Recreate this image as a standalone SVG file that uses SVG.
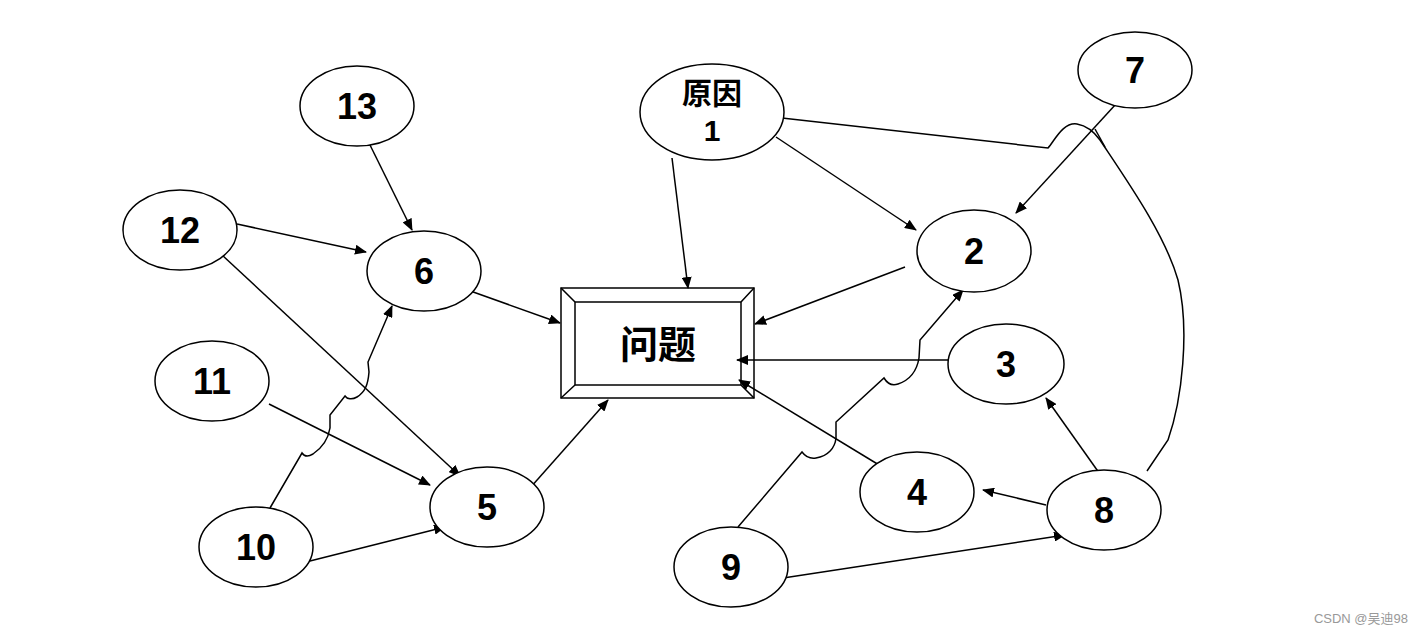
<svg xmlns="http://www.w3.org/2000/svg" width="1422" height="634" viewBox="0 0 1422 634">
<style>
.n ellipse{fill:#fff;stroke:#000;stroke-width:1.5}
.t{font-family:"Liberation Sans","Noto Sans CJK SC",sans-serif;font-weight:bold;font-size:36px;text-anchor:middle;fill:#000}
.c line,.c path{stroke:#000;stroke-width:1.5;fill:none}
.a{marker-end:url(#ah)}
</style>
<defs>
<marker id="ah" viewBox="0 0 12 10" refX="11" refY="5" markerWidth="12" markerHeight="10" markerUnits="userSpaceOnUse" orient="auto">
<path d="M0,0 L12,5 L0,10 Z" fill="#000"/>
</marker>
</defs>
<rect width="1422" height="634" fill="#fff"/>
<g id="box">
<rect x="561" y="288" width="193" height="110" fill="#fff" stroke="#000" stroke-width="1.5"/>
<rect x="575" y="302" width="166" height="83" fill="#fff" stroke="#000" stroke-width="1.5"/>
<path d="M561,288 L575,302 M754,288 L741,302 M561,398 L575,385 M754,398 L741,385" stroke="#000" stroke-width="1.5"/>
<text class="t" x="658" y="358" style="font-size:38px;font-family:'Noto Sans CJK SC',sans-serif">问题</text>
</g>
<g class="c">
<line class="a" x1="672" y1="158" x2="688" y2="288"/>
<line class="a" x1="776" y1="137" x2="916" y2="230"/>
<path d="M773,117 L1048,148 C1055,140 1063,122 1077,124 C1088,126 1095,133 1100,140 C1130,185 1165,235 1178,280 C1190,330 1182,400 1168,440 L1147,471"/>
<line x1="1095" y1="129" x2="1105" y2="147"/>
<line class="a" x1="1116" y1="104" x2="1016" y2="213"/>
<line class="a" x1="370" y1="145" x2="412" y2="230"/>
<line class="a" x1="237" y1="224" x2="366" y2="252"/>
<line class="a" x1="222" y1="255" x2="460" y2="476"/>
<line class="a" x1="462" y1="288" x2="560" y2="323"/>
<line class="a" x1="269" y1="404" x2="430" y2="485"/>
<line class="a" x1="302" y1="563" x2="445" y2="527"/>
<path class="a" d="M270,508 L302,453 C304,456 308,457 313,454 C322,448 328,440 330,428 L330,415 L345,396 C347,399 352,400 357,397 C365,392 368,385 369,372 L368,362 L392,306"/>
<line class="a" x1="530" y1="488" x2="608" y2="400"/>
<line class="a" x1="905" y1="267" x2="755" y2="324"/>
<line class="a" x1="948" y1="360" x2="737" y2="360"/>
<line class="a" x1="884" y1="468" x2="739" y2="380"/>
<line class="a" x1="1102" y1="477" x2="1046" y2="398"/>
<line class="a" x1="1046" y1="505" x2="983" y2="490"/>
<line class="a" x1="770" y1="580" x2="1065" y2="535"/>
<path class="a" d="M738,527 L802,452 C805,456 810,459 816,458 C828,456 835,448 836,438 L836,422 L884,378 C887,383 892,386 898,384 C910,380 917,370 919,358 L920,340 L963,290"/>
</g>
<g id="n1" class="n"><ellipse cx="712" cy="112" rx="72" ry="48"/><text class="t" x="712" y="104" style="font-size:30px;font-family:'Noto Sans CJK SC',sans-serif">原因</text><text class="t" x="712" y="141" style="font-size:30px">1</text></g>
<g id="n7" class="n"><ellipse cx="1135" cy="70" rx="57" ry="38"/><text class="t" x="1135" y="83">7</text></g>
<g id="n13" class="n"><ellipse cx="357" cy="106" rx="57" ry="40"/><text class="t" x="357" y="119">13</text></g>
<g id="n12" class="n"><ellipse cx="180" cy="230" rx="57" ry="40"/><text class="t" x="180" y="243">12</text></g>
<g id="n6" class="n"><ellipse cx="424" cy="271" rx="57" ry="40"/><text class="t" x="424" y="284">6</text></g>
<g id="n2" class="n"><ellipse cx="974" cy="251" rx="57" ry="41"/><text class="t" x="974" y="264">2</text></g>
<g id="n3" class="n"><ellipse cx="1006" cy="364" rx="58" ry="40"/><text class="t" x="1006" y="377">3</text></g>
<g id="n11" class="n"><ellipse cx="212" cy="381" rx="57" ry="40"/><text class="t" x="212" y="394">11</text></g>
<g id="n4" class="n"><ellipse cx="917" cy="492" rx="57" ry="40"/><text class="t" x="917" y="505">4</text></g>
<g id="n8" class="n"><ellipse cx="1104" cy="510" rx="57" ry="40"/><text class="t" x="1104" y="523">8</text></g>
<g id="n5" class="n"><ellipse cx="487" cy="507" rx="57" ry="40"/><text class="t" x="487" y="520">5</text></g>
<g id="n10" class="n"><ellipse cx="256" cy="547" rx="57" ry="40"/><text class="t" x="256" y="560">10</text></g>
<g id="n9" class="n"><ellipse cx="731" cy="567" rx="57" ry="40"/><text class="t" x="731" y="580">9</text></g>
<text x="1408" y="623" text-anchor="end" font-family="'Liberation Sans','Noto Sans CJK SC',sans-serif" font-size="13" fill="#999">CSDN @吴迪98</text>
</svg>
